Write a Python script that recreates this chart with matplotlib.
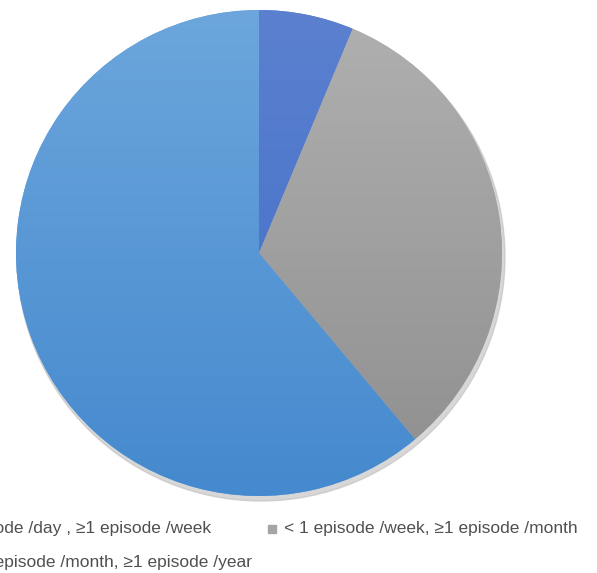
import numpy as np
import matplotlib
matplotlib.use("Agg")
import matplotlib.pyplot as plt
from matplotlib.colors import LinearSegmentedColormap

labels = ["< 1 episode /day , ≥1 episode /week",
          "< 1 episode /week, ≥1 episode /month",
          "< 1 episode /month, ≥1 episode /year"]
values = [6.3, 32.6, 61.1]
top_colors = ["#5B80CF", "#B0B0B0", "#6CA6DC"]
bot_colors = ["#3F6EC8", "#8E8E8E", "#4589CE"]

W, H = 597, 573
fig = plt.figure(figsize=(W / 100, H / 100), dpi=100)
ax = fig.add_axes([0, 0, 1, 1])
cx, cy, r = 259, H - 253, 243

# shadow
sh = plt.Circle((cx + 2, cy - 4), r + 1, color="#bdbdbd", zorder=0, alpha=0.6)
ax.add_patch(sh)

wedges, _ = ax.pie(values, center=(cx, cy), radius=r, startangle=90,
                   counterclock=False, colors=top_colors,
                   wedgeprops=dict(linewidth=0))
ax.set_xlim(0, W)
ax.set_ylim(0, H)
ax.set_aspect("auto")
ax.axis("off")

grad = np.linspace(0, 1, 256).reshape(-1, 1)
for w, tc, bc in zip(wedges, top_colors, bot_colors):
    cmap = LinearSegmentedColormap.from_list("g", [tc, bc])
    im = ax.imshow(grad, cmap=cmap, extent=(cx - r, cx + r, cy - r, cy + r),
                   origin="upper", aspect="auto", zorder=2)
    im.set_clip_path(w)
ax.set_xlim(0, W)
ax.set_ylim(0, H)

fs = 12.5
fam = ["Liberation Sans", "DejaVu Sans"]
tcol = "#505050"

# legend entries (first column is cut off at the left edge, as in the source)
ax.text(211, H - 529, labels[0], ha="right", va="center", fontsize=fs,
        color=tcol, family=fam)
ax.add_patch(plt.Rectangle((268, H - 533), 8, 8, color="#A5A5A5"))
ax.text(284, H - 529, labels[1], ha="left", va="center", fontsize=fs,
        color=tcol, family=fam)
ax.text(252, H - 562, labels[2], ha="right", va="center", fontsize=fs,
        color=tcol, family=fam)

fig.savefig("out.png", dpi=100)
